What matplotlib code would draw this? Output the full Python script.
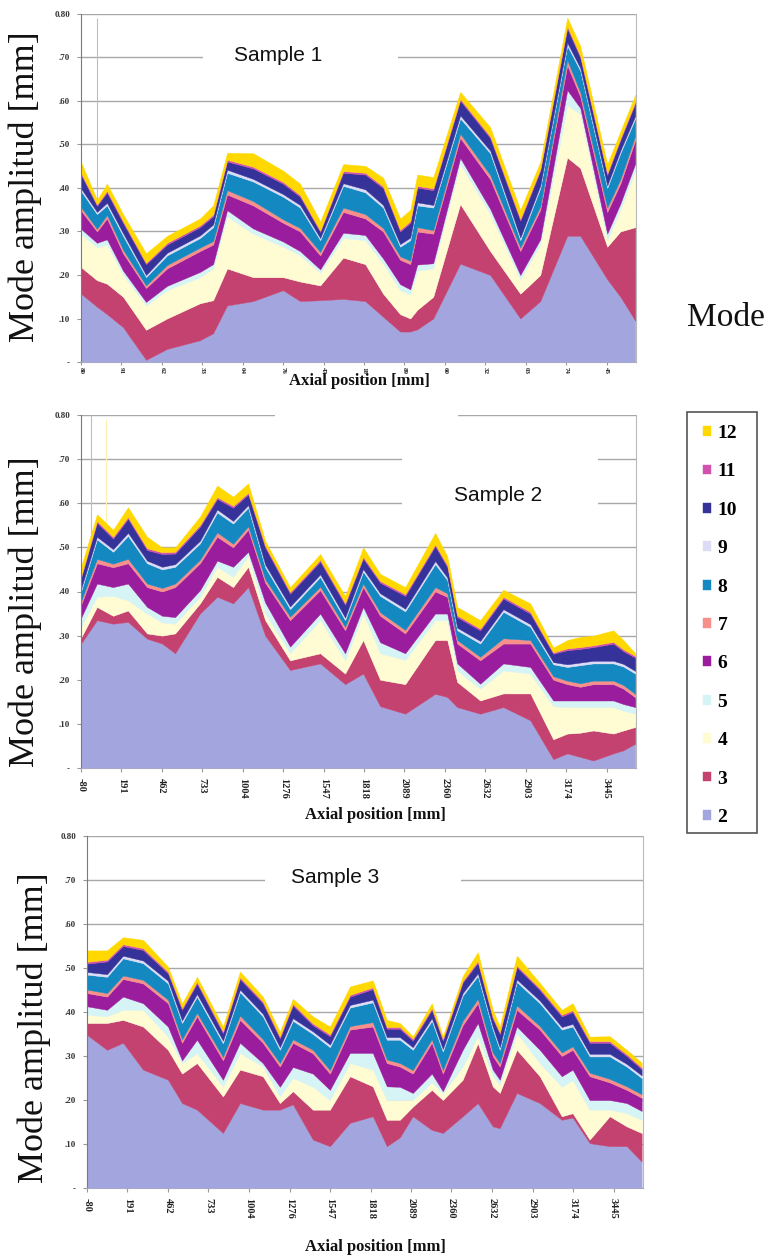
import matplotlib
matplotlib.use('Agg')
import matplotlib.pyplot as plt
from matplotlib.patches import Rectangle

plt.rcParams['font.family'] = ['Liberation Serif', 'DejaVu Serif']

modes = ['2', '3', '4', '5', '6', '7', '8', '9', '10', '11', '12']
colors = ['#A3A5DF', '#C4426F', '#FFFBD2', '#D6F4F6', '#9A1D9E', '#F7908A',
          '#1488C0', '#DCDDF5', '#35339A', '#D052AE', '#FFD800']

tick_mm = [-80, 191, 462, 733, 1004, 1276, 1547, 1818, 2089, 2360, 2632, 2903, 3174, 3445]
tick_labels = [str(t) for t in tick_mm]
# sample 1 shows only short, cut-off labels
tick_labels_s1 = ['80', '91', '62', '33', '04', '76', '47', '18', '89', '60', '32', '03', '74', '45']
y_ticks = [0, 0.1, 0.2, 0.3, 0.4, 0.5, 0.6, 0.7, 0.8]
y_labels = ['-', '.10', '.20', '.30', '.40', '.50', '.60', '.70', '0.80']

# ---- sample 1 : mode amplitudes (mm) per axial position (mm)
s1_x = [-80, 27, 94, 202, 356, 497, 718, 806, 900, 1074, 1275, 1389, 1524, 1678, 1826,
        1946, 2060, 2128, 2175, 2282, 2463, 2664, 2866, 3000, 3181, 3268, 3449, 3537, 3637]
s1_m2 = [.157, .127, .11, .08, .005, .03, .05, .066, .13, .14, .165, .14, .142, .145, .14,
         .104, .07, .07, .075, .10, .226, .20, .10, .14, .29, .29, .19, .15, .095]
s1_m3 = [.061, .061, .07, .07, .069, .07, .085, .076, .085, .055, .03, .045, .034, .095, .085,
         .053, .04, .03, .045, .05, .137, .055, .057, .06, .18, .156, .075, .15, .215]
s1_m4 = [.076, .076, .09, .05, .056, .065, .06, .073, .12, .10, .07, .06, .029, .045, .055,
         .069, .055, .055, .09, .065, .092, .085, .033, .07, .12, .124, .015, .05, .13]
s1_m5 = [.012, .010, .012, .010, .008, .010, .012, .010, .014, .012, .012, .010, .008, .012, .012,
         .012, .014, .012, .014, .012, .014, .012, .010, .012, .035, .014, .015, .014, .016]
s1_m6 = [.042, .026, .048, .04, .032, .04, .048, .045, .036, .053, .043, .045, .032, .048, .038,
         .062, .056, .058, .076, .068, .046, .068, .055, .068, .057, .026, .05, .046, .054]
s1_m7 = [.008, .006, .008, .008, .006, .008, .008, .008, .010, .010, .008, .008, .008, .010, .010,
         .008, .008, .008, .010, .008, .010, .010, .008, .008, .012, .010, .010, .010, .010]
s1_m8 = [.037, .034, .022, .032, .019, .022, .022, .032, .04, .045, .052, .047, .027, .05, .05,
         .047, .022, .047, .05, .052, .035, .05, .017, .042, .033, .05, .045, .06, .04]
s1_m9 = [.006, .005, .006, .006, .005, .006, .006, .006, .007, .006, .006, .006, .005, .006, .007,
         .006, .006, .006, .007, .006, .007, .006, .006, .006, .007, .006, .006, .006, .006]
s1_m10 = [.032, .014, .024, .024, .025, .019, .019, .019, .019, .024, .024, .019, .014, .024, .034,
          .039, .029, .034, .034, .034, .034, .029, .039, .034, .033, .024, .024, .024, .029]
s1_m11 = [.004, .003, .004, .004, .003, .004, .004, .004, .004, .004, .004, .004, .003, .004, .004,
          .004, .004, .004, .004, .004, .004, .004, .004, .004, .005, .004, .004, .004, .004]
s1_m12 = [.025, .011, .016, .016, .022, .016, .016, .021, .016, .031, .026, .026, .021, .016, .016,
          .02, .026, .026, .026, .026, .016, .021, .021, .016, .02, .023, .021, .016, .016]
s1_spike_x = [27]
s1_spike_top = [0.79]

# ---- sample 2
s2_x = [-80, 27, 135, 235, 363, 464, 551, 718, 833, 940, 1041, 1155, 1322, 1524, 1691, 1812,
        1926, 2094, 2295, 2376, 2443, 2597, 2752, 2933, 3087, 3181, 3268, 3356, 3490, 3557, 3637]
s2_m2 = [.282, .335, .327, .331, .293, .282, .26, .35, .388, .373, .41, .30, .222, .237, .19, .214,
         .14, .123, .168, .161, .138, .123, .138, .108, .02, .033, .025, .017, .033, .04, .055]
s2_m3 = [.013, .03, .018, .026, .012, .018, .045, .023, .045, .037, .046, .035, .022, .023, .024, .076,
         .06, .067, .122, .129, .057, .03, .031, .061, .045, .045, .055, .068, .045, .045, .038]
s2_m4 = [.025, .023, .045, .023, .045, .03, .022, .015, .023, .023, .024, .015, .016, .075, .03, .06,
         .06, .055, .045, .045, .026, .027, .052, .045, .075, .06, .058, .053, .06, .045, .03]
s2_m5 = [.02, .03, .02, .038, .015, .015, .015, .015, .014, .023, .01, .025, .015, .015, .016, .015,
         .025, .015, .015, .015, .016, .011, .016, .015, .013, .015, .015, .015, .015, .015, .015]
s2_m6 = [.03, .046, .045, .046, .045, .055, .068, .061, .054, .044, .05, .045, .06, .053, .052, .045,
         .06, .045, .05, .038, .045, .053, .045, .053, .047, .037, .031, .037, .037, .035, .022]
s2_m7 = [.008, .010, .008, .010, .008, .008, .008, .008, .010, .008, .008, .008, .008, .008, .008, .008,
         .008, .008, .010, .008, .008, .008, .012, .008, .008, .008, .008, .008, .008, .008, .008]
s2_m8 = [.022, .044, .027, .052, .046, .042, .038, .037, .045, .046, .042, .027, .017, .022, .015, .027,
         .037, .042, .052, .03, .022, .03, .06, .03, .027, .031, .041, .039, .039, .042, .046]
s2_m9 = [.006, .006, .006, .007, .006, .006, .006, .006, .007, .006, .006, .006, .006, .006, .006, .006,
         .006, .006, .007, .006, .006, .006, .006, .006, .005, .006, .006, .006, .006, .006, .006]
s2_m10 = [.024, .032, .024, .032, .024, .029, .024, .032, .024, .03, .024, .039, .029, .029, .029, .024,
          .024, .029, .034, .024, .024, .024, .024, .024, .019, .032, .031, .031, .039, .029, .03]
s2_m11 = [.004, .004, .004, .004, .004, .004, .004, .004, .004, .004, .004, .004, .004, .004, .004, .004,
          .004, .004, .004, .004, .004, .004, .004, .004, .003, .004, .004, .004, .004, .004, .004]
s2_m12 = [.022, .015, .016, .022, .026, .011, .01, .019, .026, .021, .021, .011, .011, .013, .016, .021,
          .016, .016, .026, .02, .019, .019, .016, .019, .011, .019, .023, .022, .026, .021, .006]
s2_spike_x = [-13, 88]
s2_spike_top = [0.80, 0.79]

# ---- sample 3
s3_x = [-80, 54, 161, 295, 462, 556, 656, 830, 944, 1097, 1211, 1298, 1432, 1546, 1680, 1833, 1927,
        2014, 2101, 2228, 2302, 2435, 2536, 2636, 2683, 2797, 2951, 3098, 3171, 3285, 3419, 3533, 3633]
s3_m2 = [.348, .314, .33, .269, .246, .193, .178, .125, .193, .178, .178, .19, .11, .095, .148, .163, .095,
         .115, .163, .132, .125, .163, .193, .14, .136, .216, .193, .155, .16, .102, .095, .095, .06]
s3_m3 = [.027, .061, .052, .098, .068, .067, .106, .083, .076, .076, .015, .03, .068, .083, .106, .068, .06,
         .04, .022, .091, .075, .083, .136, .091, .08, .098, .061, .008, .01, .008, .068, .045, .065]
s3_m4 = [.019, .015, .023, .038, .03, .024, .023, .022, .038, .022, .015, .03, .052, .022, .03, .038, .045,
         .045, .015, .017, .015, .03, .016, .023, .019, .038, .03, .067, .075, .068, .015, .03, .03]
s3_m5 = [.019, .015, .03, .015, .023, .006, .03, .016, .023, .008, .022, .025, .03, .023, .023, .038, .031,
         .03, .016, .02, .005, .038, .03, .015, .011, .015, .03, .024, .024, .022, .022, .023, .02]
s3_m6 = [.03, .03, .04, .045, .053, .04, .053, .044, .052, .046, .046, .055, .046, .037, .053, .06, .053,
         .046, .044, .07, .04, .056, .045, .031, .03, .038, .046, .046, .045, .054, .04, .03, .03]
s3_m7 = [.008, .008, .008, .008, .008, .008, .008, .008, .010, .008, .008, .008, .008, .008, .008, .010, .008,
         .008, .008, .008, .008, .010, .010, .008, .008, .010, .008, .008, .008, .008, .008, .008, .008]
s3_m8 = [.034, .037, .039, .038, .037, .037, .037, .031, .053, .052, .03, .042, .036, .052, .042, .045, .045,
         .053, .046, .042, .042, .057, .052, .052, .03, .053, .052, .052, .045, .037, .051, .045, .037]
s3_m9 = [.006, .006, .006, .006, .006, .006, .006, .006, .006, .006, .006, .006, .006, .006, .006, .006, .006,
         .006, .006, .006, .006, .006, .006, .006, .006, .006, .006, .006, .006, .006, .006, .006, .006]
s3_m10 = [.019, .029, .022, .024, .017, .024, .024, .017, .024, .024, .02, .029, .014, .019, .019, .024, .019,
          .019, .015, .019, .019, .024, .024, .019, .03, .028, .024, .024, .027, .025, .025, .018, .014]
s3_m11 = [.004, .004, .004, .004, .004, .004, .004, .004, .004, .004, .004, .004, .004, .004, .004, .004, .004,
          .004, .004, .004, .004, .004, .004, .004, .004, .004, .004, .004, .004, .004, .004, .004, .004]
s3_m12 = [.026, .021, .016, .019, .011, .011, .011, .011, .013, .011, .011, .011, .016, .018, .019, .016, .016,
          .009, .006, .011, .006, .011, .02, .016, .013, .022, .012, .011, .016, .01, .011, .01, .011]

W, H = 766, 1259
fig = plt.figure(figsize=(W / 100, H / 100), dpi=100, facecolor='white')


def panel(px_box, x, layers, title, title_xy, gaps, xlabels, xfont, spikes=None):
    left, top, right, bottom = px_box
    ax = fig.add_axes([left / W, 1 - bottom / H, (right - left) / W, (bottom - top) / H])
    ax.set_axisbelow(True)
    polys = ax.stackplot(x, layers, colors=colors, edgecolor='face', linewidth=0.3)
    if spikes is not None:
        for sx, st, c in zip(spikes[0], spikes[1], spikes[2]):
            ax.vlines(sx, 0, st, color=c, lw=0.8, zorder=0.9)
    ax.set_xlim(-80, 3642)
    ax.set_ylim(0, 0.8)
    ax.set_yticks(y_ticks)
    ax.set_yticklabels(y_labels, fontsize=6.5, fontweight='bold', color='#333333')
    ax.set_xticks(tick_mm)
    ax.set_xticklabels(xlabels, rotation=270, fontsize=xfont,
                       fontweight='bold', color='#222222')
    ax.tick_params(axis='x', length=3, pad=4, color='#999999')
    ax.tick_params(axis='y', length=3, pad=5, color='#999999')
    ax.yaxis.grid(True, color='#A8A8A8', lw=1)
    ax.spines['top'].set_visible(False)
    ax.spines['left'].set_color('#7A7A7A')
    ax.spines['bottom'].set_color('#A8A8C8')
    ax.spines['right'].set_color('#B8B8B8')
    for g in gaps:
        ax.add_patch(Rectangle((g[0], g[1]), g[2], g[3], transform=ax.transAxes,
                               fc='white', ec='none', zorder=0.8, clip_on=False))
    ax.text(title_xy[0], title_xy[1], title, transform=ax.transAxes, ha='center', va='center',
            fontsize=15, family=['Liberation Sans', 'DejaVu Sans'], color='#111111', zorder=5)
    return ax, polys


ax1, polys = panel((81, 14, 636, 362), s1_x,
                   [s1_m2, s1_m3, s1_m4, s1_m5, s1_m6, s1_m7, s1_m8, s1_m9, s1_m10, s1_m11, s1_m12],
                   'Sample 1', (0.355, 0.882), [(0.22, 0.82, 0.351, 0.11)],
                   tick_labels_s1, 5, (s1_spike_x, s1_spike_top, ['#E4A8CC']))
ax1.tick_params(axis='x', length=2, pad=1.5)
ax2, _ = panel((81, 415, 636, 768), s2_x,
               [s2_m2, s2_m3, s2_m4, s2_m5, s2_m6, s2_m7, s2_m8, s2_m9, s2_m10, s2_m11, s2_m12],
               'Sample 2', (0.751, 0.773),
               [(0.35, 0.97, 0.33, 0.06), (0.578, 0.70, 0.354, 0.24)],
               tick_labels, 7.5, (s2_spike_x, s2_spike_top, ['#E4A8CC', '#FFF2B0']))
ax3, _ = panel((87, 836, 643, 1188), s3_x,
               [s3_m2, s3_m3, s3_m4, s3_m5, s3_m6, s3_m7, s3_m8, s3_m9, s3_m10, s3_m11, s3_m12],
               'Sample 3', (0.446, 0.881), [(0.32, 0.82, 0.353, 0.11)],
               tick_labels, 7.5)

# axis titles
for (cx, cy) in [(25, 187), (25, 612), (34, 1028)]:
    fig.text(cx / W, 1 - cy / H, 'Mode amplitud [mm]', rotation=90, fontsize=26,
             ha='center', va='center', color='#111111')
for (cx, cy) in [(359, 381), (375, 815), (375, 1247)]:
    fig.text(cx / W, 1 - cy / H, 'Axial position [mm]', fontsize=12, fontweight='bold',
             ha='center', va='center', color='#111111')

# legend: frame drawn separately so its width matches the original box
fig.text(726 / W, 1 - 318 / H, 'Mode', fontsize=24, ha='center', va='center', color='#111111')
fig.patches.append(Rectangle((687 / W, 1 - 833 / H), 70 / W, 421 / H, transform=fig.transFigure,
                             fill=False, ec='#555555', lw=1.2))
leg = fig.legend(polys[::-1], modes[::-1], loc='upper left',
                 bbox_to_anchor=(703 / W, 1 - 425 / H), borderaxespad=0,
                 prop={'weight': 'bold', 'size': 14}, frameon=False,
                 handlelength=0.4, handleheight=0.4, handletextpad=0.35,
                 borderpad=0, labelspacing=1.1)

fig.savefig('out.png', dpi=100, facecolor='white')
